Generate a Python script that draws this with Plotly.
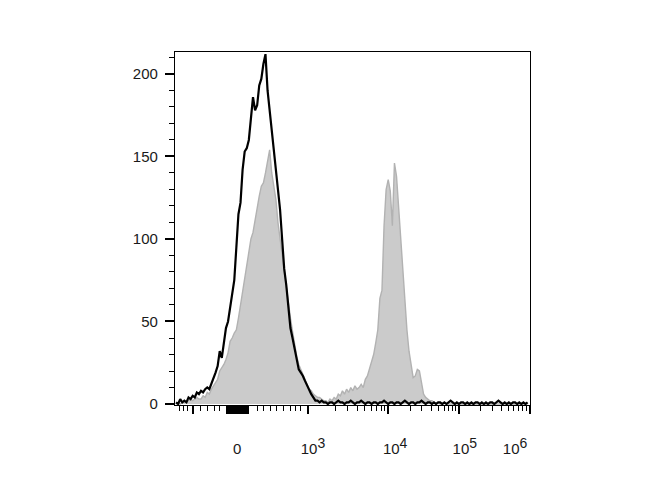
import plotly.graph_objects as go

# Histogram bins on a 1024-channel display scale (6 channels per bin)
BIN_WIDTH = 6
N_BINS = 170
bin_centers = [BIN_WIDTH * k + BIN_WIDTH / 2 for k in range(N_BINS)]

# Unstained / isotype control (black outline)
control_counts = [
    1, 0, 3, 1, 2, 1, 4, 3, 5, 4, 7, 6, 8, 7, 9, 10, 9, 12, 16, 19,
    23, 32, 28, 36, 46, 50, 59, 68, 75, 95, 115, 122, 142, 153, 155, 160, 172, 186, 178, 181,
    193, 197, 206, 212, 190, 178, 164, 152, 140, 128, 118, 100, 82, 72, 60, 46, 40, 33, 26, 21,
    19, 17, 14, 11, 9, 6, 4, 2, 2, 1, 2, 1, 1, 0, 1, 1, 0, 1, 2, 1,
    1, 0, 1, 1, 2, 1, 0, 1, 1, 2, 1, 0, 1, 1, 0, 1, 1, 0, 1, 1,
    2, 1, 0, 1, 1, 0, 1, 1, 0, 1, 2, 1, 0, 1, 1, 0, 1, 1, 2, 1,
    0, 1, 1, 0, 1, 0, 1, 1, 0, 1, 0, 1, 2, 1, 0, 1, 0, 1, 1, 0,
    1, 0, 1, 0, 1, 1, 0, 1, 0, 1, 0, 1, 1, 0, 1, 2, 1, 0, 1, 0,
    1, 0, 1, 1, 0, 1, 0, 1, 0, 1,
]

# Stained sample (grey filled)
stained_counts = [
    0, 1, 0, 1, 2, 1, 2, 3, 2, 3, 4, 3, 3, 5, 4, 7, 6, 9, 11, 13,
    15, 20, 22, 24, 27, 31, 38, 40, 43, 45, 52, 60, 68, 76, 84, 92, 100, 104, 112, 118,
    126, 132, 134, 140, 146, 154, 140, 132, 124, 110, 100, 90, 80, 72, 62, 52, 44, 36, 29, 24,
    21, 17, 14, 12, 9, 8, 6, 5, 4, 4, 3, 2, 2, 1, 3, 2, 4, 3, 6, 5,
    8, 6, 9, 7, 10, 8, 11, 9, 10, 12, 10, 15, 17, 21, 25, 30, 37, 45, 64, 69,
    108, 130, 136, 129, 108, 146, 138, 118, 98, 83, 62, 45, 32, 24, 16, 17, 21, 20, 12, 6,
    4, 3, 2, 2, 1, 0, 1, 0, 0, 1, 0, 0, 0, 0, 0, 0, 0, 0, 0, 0,
    0, 0, 0, 0, 0, 0, 0, 0, 0, 0, 0, 0, 0, 0, 0, 0, 0, 0, 0, 0,
    0, 0, 0, 0, 0, 0, 0, 0, 0, 0,
]

# Biexponential axis decorations (channel positions)
major_tick_channels = [53, 179, 383, 614, 819, 1024]
zero_cluster_channels = [150, 154, 158, 162, 166, 170, 174, 178, 182, 186, 190, 194, 198, 202, 206, 210]
minor_tick_channels = [
    12, 25, 36, 73, 95, 115, 129,
    237, 256, 275, 294, 314, 333, 347, 361,
    462, 498, 527, 548, 567, 582, 596, 605,
    678, 712, 740, 759, 777, 788, 800, 809,
    880, 915, 942, 961, 976, 990, 1002, 1014,
]
x_label_channels = [179, 398, 635, 836, 981]
SUP = '<sup><span style="font-size:14px">{}</span></sup>'
x_label_text = ["0", "10" + SUP.format(3), "10" + SUP.format(4), "10" + SUP.format(5), "10" + SUP.format(6)]

y_tick_vals = [0, 50, 100, 150, 200]

FONT = "Liberation Sans, Arial, sans-serif"

fig = go.Figure()
fig.add_trace(go.Scatter(
    x=bin_centers, y=stained_counts, mode="lines",
    line=dict(color="#b2b2b2", width=1.4),
    fill="tozeroy", fillcolor="#cbcbcb",
    hoverinfo="skip",
))
fig.add_trace(go.Scatter(
    x=bin_centers, y=control_counts, mode="lines",
    line=dict(color="#000000", width=2.2),
    hoverinfo="skip",
))
# empty trace so the label-only axis is drawn
fig.add_trace(go.Scatter(x=[None], y=[None], xaxis="x2", yaxis="y",
                         mode="markers", hoverinfo="skip"))

fig.update_layout(
    width=662, height=492,
    margin=dict(l=167, r=140, t=44, b=95),
    paper_bgcolor="white", plot_bgcolor="white",
    showlegend=False,
    font=dict(family=FONT, size=15, color="#1a1a1a"),
    xaxis=dict(
        range=[0, 1024], showgrid=False, zeroline=False,
        showline=True, linecolor="black", linewidth=1.2, mirror=True,
        tickmode="array", tickvals=major_tick_channels + zero_cluster_channels,
        ticks="outside", ticklen=8, tickwidth=2, tickcolor="black",
        showticklabels=False,
        minor=dict(tickmode="array", tickvals=minor_tick_channels,
                   ticks="outside", ticklen=5, tickwidth=1, tickcolor="black"),
    ),
    xaxis2=dict(
        range=[0, 1024], overlaying="x", anchor="y", side="bottom",
        showgrid=False, zeroline=False, showline=False,
        tickmode="array", tickvals=x_label_channels, ticktext=x_label_text,
        ticks="", ticklabelstandoff=33,
        tickfont=dict(family=FONT, size=15, color="#1a1a1a"),
    ),
    yaxis=dict(
        range=[-0.6, 213.3], showgrid=False, zeroline=False,
        showline=True, linecolor="black", linewidth=1.2, mirror=True,
        tickmode="array", tickvals=y_tick_vals,
        ticks="outside", ticklen=9, tickwidth=2, tickcolor="black",
        ticklabelstandoff=4,
        minor=dict(dtick=10, tick0=0, ticks="outside", ticklen=5, tickwidth=1, tickcolor="black"),
        tickfont=dict(family=FONT, size=15, color="#1a1a1a"),
    ),
)

fig.write_html("out.html")
